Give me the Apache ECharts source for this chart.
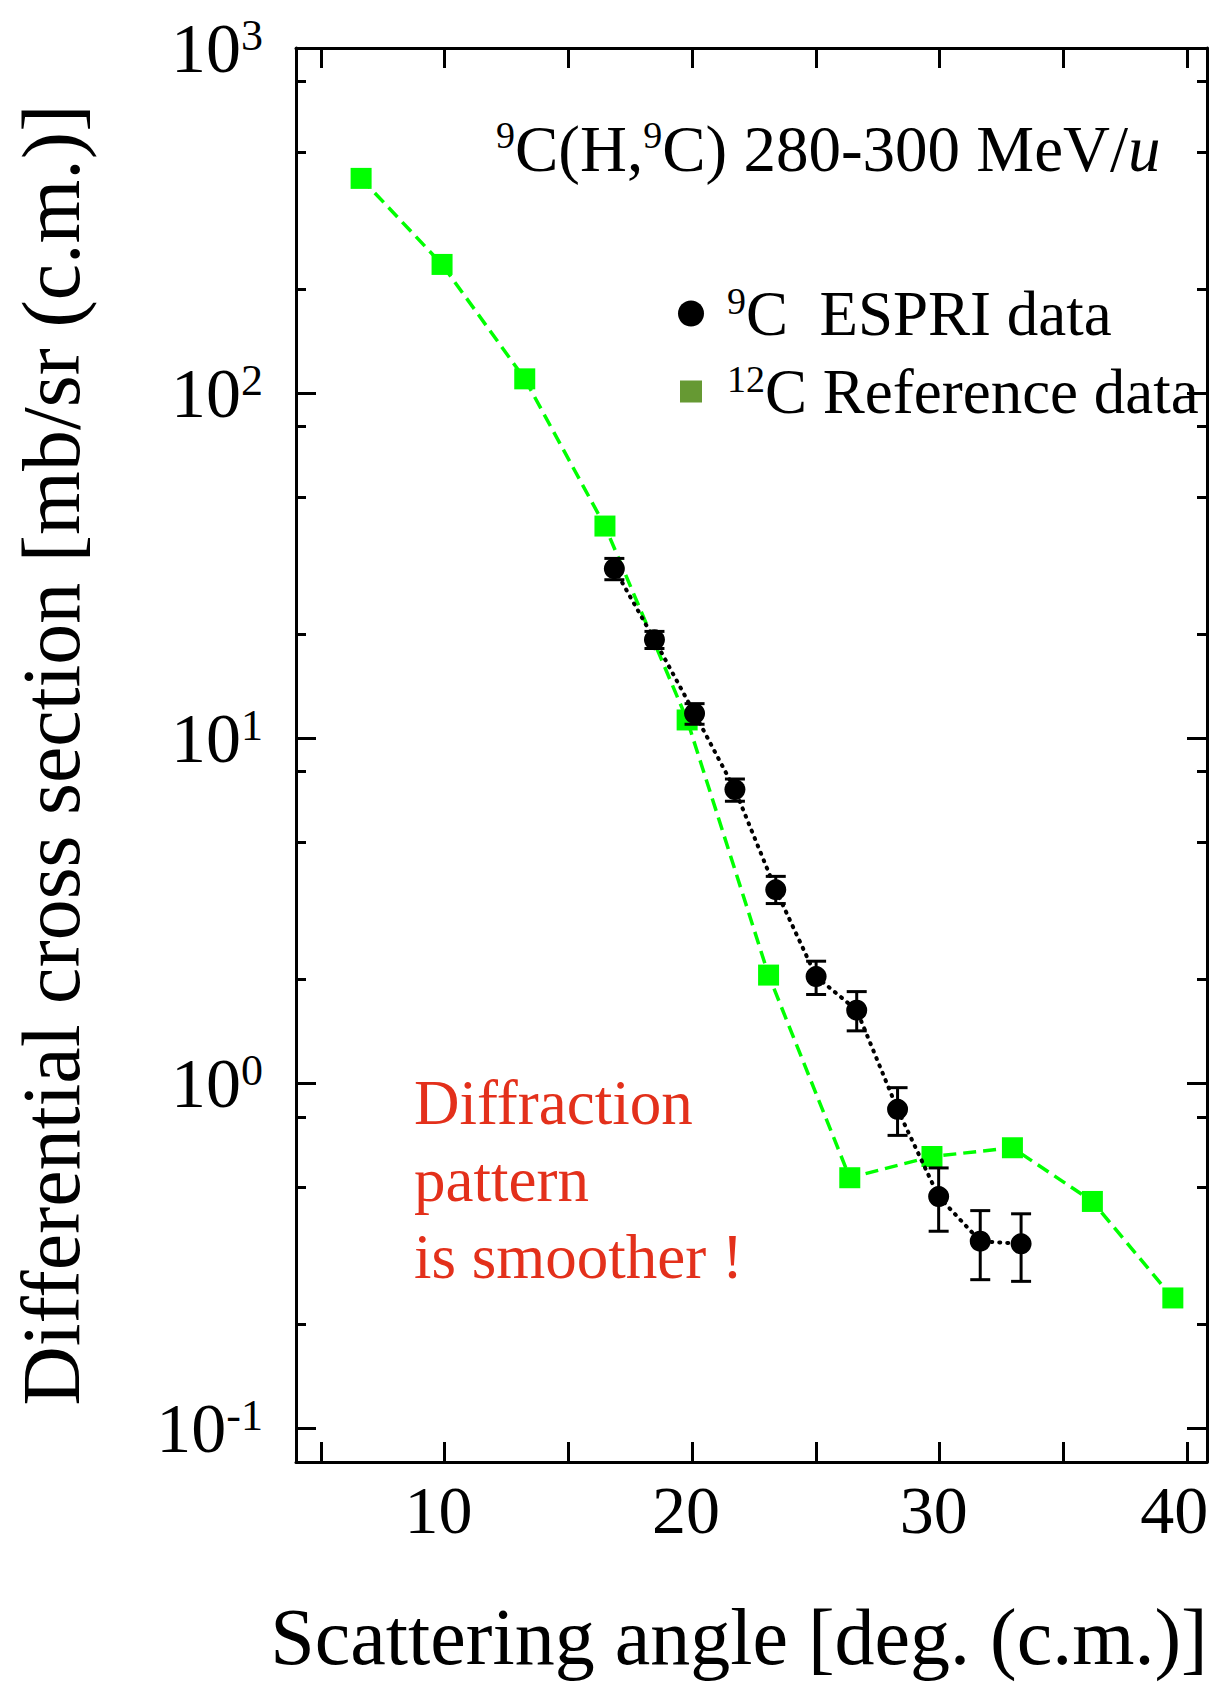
<!DOCTYPE html>
<html>
<head>
<meta charset="utf-8">
<script src="https://cdn.jsdelivr.net/npm/echarts@6/dist/echarts.min.js"></script>
<style>
html, body { margin: 0; padding: 0; background: #ffffff; }
#chart { width: 1220px; height: 1686px; }
</style>
</head>
<body>
<div id="chart"></div>
<script>
// ---- data ----
const refX = [6.63, 9.90, 13.24, 16.48, 19.80, 23.09, 26.37, 29.69, 32.94, 36.17, 39.42];
const refY = [419, 236, 110, 41.2, 11.3, 2.06, 0.533, 0.614, 0.651, 0.455, 0.239];

const espriX = [16.86, 18.48, 20.10, 21.73, 23.38, 25.01, 26.65, 28.30, 29.96, 31.64, 33.29];
const espriY = [31.0, 19.3, 11.8, 7.10, 3.64, 2.04, 1.63, 0.841, 0.470, 0.349, 0.343];
const espriLow = [28.8, 18.2, 10.98, 6.57, 3.32, 1.81, 1.42, 0.707, 0.373, 0.270, 0.267];
const espriHigh = [33.2, 20.4, 12.6, 7.62, 3.98, 2.26, 1.845, 0.972, 0.569, 0.428, 0.419];

const xTickValues = [5, 10, 15, 20, 25, 30, 35, 40];
const xLabelValues = [10, 20, 30, 40];
const yMajorValues = [0.1, 1, 10, 100, 1000];
const yMinorValues = [0.2, 0.5, 0.8, 2, 5, 8, 20, 50, 80, 200, 500, 800];

const titleText = '{sup|9}C(H,{sup|9}C) 280-300 MeV/{it|u}';
const noteText = 'Diffraction\npattern\nis smoother !';
const xName = 'Scattering angle [deg. (c.m.)]';
const yName = 'Differential cross section [mb/sr (c.m.)]';
const espriName = 'ESPRI';
const refName = 'Reference';
const legendTexts = { 'ESPRI': '{sup|9}C  ESPRI data', 'Reference': '{sup|12}C Reference data' };

// ---- build ----
const FONT = '"Liberation Serif", "Times New Roman", Times, serif';
const X_MIN = 4, X_MAX = 40.8, Y_MIN = 0.08, Y_MAX = 1000;

const refData = refX.map((x, i) => [x, refY[i]]);
const espriData = espriX.map((x, i) => [x, espriY[i]]);
const errData = espriX.map((x, i) => [x, espriLow[i], espriHigh[i]]);

const axisLine = { show: true, onZero: false, lineStyle: { color: '#000', width: 3 } };

function xAxisCfg(pos, withLabels) {
  return {
    type: 'value', position: pos, min: X_MIN, max: X_MAX,
    axisLine: axisLine,
    axisTick: { show: true, inside: true, length: 20, lineStyle: { color: '#000', width: 3 }, customValues: xTickValues },
    axisLabel: withLabels ? {
      show: true, customValues: xLabelValues, fontSize: 68, fontFamily: FONT, color: '#000', margin: 14,
      padding: [0, 12, 0, 0],
      formatter: function (v) { return v === 40 ? '{last|40}' : String(v); },
      rich: { last: { fontSize: 68, fontFamily: FONT, color: '#000', padding: [0, 14, 0, 0] } }
    } : { show: false },
    splitLine: { show: false },
    name: withLabels ? xName : '',
    nameLocation: 'middle', nameGap: 135,
    nameTextStyle: { fontSize: 80, fontFamily: FONT, color: '#000', padding: [0, 25, 0, 0] }
  };
}

function yAxisCfg(pos, minor, withLabels) {
  return {
    type: 'log', logBase: 10, position: pos, min: Y_MIN, max: Y_MAX,
    axisLine: minor ? { show: false } : axisLine,
    axisTick: { show: true, inside: true, length: minor ? 10 : 20, lineStyle: { color: '#000', width: 3 },
      customValues: minor ? yMinorValues : yMajorValues },
    axisLabel: withLabels ? {
      show: true, customValues: yMajorValues, margin: 33, color: '#000',
      fontSize: 70, fontFamily: FONT,
      formatter: function (v) { return '10{sup|' + Math.round(Math.log10(v)) + '}'; },
      rich: { sup: { fontSize: 44, lineHeight: 42, verticalAlign: 'top', fontFamily: FONT, color: '#000' } }
    } : { show: false },
    splitLine: { show: false },
    minorTick: { show: false },
    name: withLabels ? yName : '',
    nameLocation: 'middle', nameGap: 204,
    nameTextStyle: { fontSize: 82, fontFamily: FONT, color: '#000' }
  };
}

const circleIcon = 'path://M0,0M0,13a13,13 0 1,0 26,0a13,13 0 1,0 -26,0M44,26';
const squareIcon = 'path://M0,0M2,2h22v22h-22zM44,26';

const option = {
  backgroundColor: '#ffffff',
  animation: false,
  textStyle: { fontFamily: FONT },
  grid: { left: 296, right: 13, top: 48, bottom: 224, containLabel: false, outerBoundsMode: 'none' },
  title: [
    {
      text: titleText, left: 496, top: 116, padding: 0,
      textStyle: {
        fontSize: 65, lineHeight: 65, fontWeight: 'normal', fontFamily: FONT, color: '#000',
        rich: {
          sup: { fontSize: 38, lineHeight: 50, verticalAlign: 'top', fontFamily: FONT, color: '#000' },
          it: { fontSize: 65, lineHeight: 65, fontStyle: 'italic', fontFamily: FONT, color: '#000' }
        }
      }
    },
    {
      text: noteText, left: 414, top: 1064, padding: 0,
      textStyle: { fontSize: 63, lineHeight: 77, fontWeight: 'normal', fontFamily: FONT, color: '#e3301b' }
    }
  ],
  legend: {
    orient: 'vertical', left: 678, top: 282, padding: 0,
    itemWidth: 44, itemHeight: 26, itemGap: 15,
    selectedMode: false,
    data: [
      { name: espriName, icon: circleIcon, itemStyle: { color: '#000', borderWidth: 0 } },
      { name: refName, icon: squareIcon, itemStyle: { color: '#669933', borderWidth: 0 } }
    ],
    formatter: function (name) { return legendTexts[name]; },
    textStyle: {
      fontSize: 63, lineHeight: 63, fontFamily: FONT, color: '#000',
      rich: { sup: { fontSize: 38, lineHeight: 50, verticalAlign: 'top', fontFamily: FONT, color: '#000' } }
    }
  },
  xAxis: [xAxisCfg('bottom', true), xAxisCfg('top', false)],
  yAxis: [yAxisCfg('left', false, true), yAxisCfg('left', true, false), yAxisCfg('right', false, false), yAxisCfg('right', true, false)],
  series: [
    {
      name: refName, type: 'line', xAxisIndex: 0, yAxisIndex: 0,
      data: refData, symbol: 'rect', symbolSize: 21,
      itemStyle: { color: '#00ff00' },
      lineStyle: { color: '#00ff00', width: 3.5, type: [13, 7] },
      z: 2
    },
    {
      name: espriName, type: 'line', xAxisIndex: 0, yAxisIndex: 0,
      data: espriData, symbol: 'circle', symbolSize: 21,
      itemStyle: { color: '#000' },
      lineStyle: { color: '#000', width: 4, type: [1, 7], cap: 'round' },
      z: 4
    },
    {
      name: 'errors', type: 'custom', xAxisIndex: 0, yAxisIndex: 0,
      data: errData, encode: { x: 0, y: [1, 2] }, z: 5,
      renderItem: function (params, api) {
        const x = api.value(0);
        const lo = api.coord([x, api.value(1)]);
        const hi = api.coord([x, api.value(2)]);
        const w = 10;
        const st = { stroke: '#000', lineWidth: 3 };
        return {
          type: 'group', children: [
            { type: 'line', shape: { x1: lo[0], y1: lo[1], x2: hi[0], y2: hi[1] }, style: st },
            { type: 'line', shape: { x1: lo[0] - w, y1: lo[1], x2: lo[0] + w, y2: lo[1] }, style: st },
            { type: 'line', shape: { x1: hi[0] - w, y1: hi[1], x2: hi[0] + w, y2: hi[1] }, style: st }
          ]
        };
      }
    }
  ]
};

const chart = echarts.init(document.getElementById('chart'), null, { renderer: 'svg', width: 1220, height: 1686 });
chart.setOption(option);
</script>
</body>
</html>
